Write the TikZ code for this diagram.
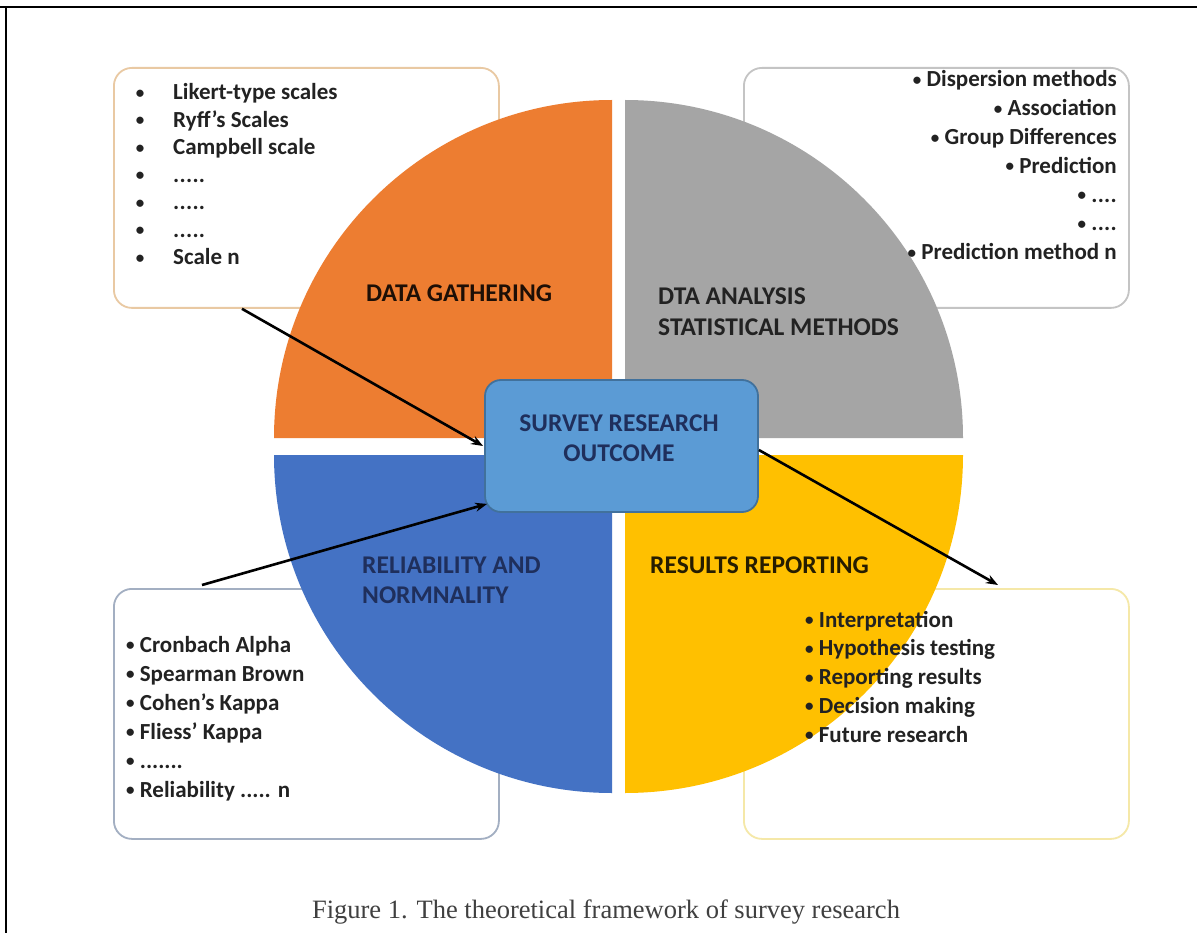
\documentclass[tikz,border=0pt]{standalone}
\usepackage{fontspec}
\setmainfont{Carlito}
\newfontfamily\capfont{Liberation Serif}
\usetikzlibrary{arrows.meta}
\definecolor{qorange}{HTML}{ED7D31}
\definecolor{qgray}{HTML}{A5A5A5}
\definecolor{qblue}{HTML}{4472C4}
\definecolor{qyellow}{HTML}{FFC000}
\definecolor{cfill}{HTML}{5B9BD5}
\definecolor{cline}{HTML}{41719C}
\definecolor{navy}{HTML}{1F2F5C}
\definecolor{txt}{HTML}{222222}
\definecolor{bdtl}{HTML}{E9C9A3}
\definecolor{bdtr}{HTML}{C4C4C4}
\definecolor{bdbl}{HTML}{A3AFC2}
\definecolor{bdbr}{HTML}{F5E8A8}
\newcommand\dotsfive{.\kern0.3pt.\kern0.3pt.\kern0.3pt.\kern0.3pt.}
\newcommand\dotsfour{.\kern0.3pt.\kern0.3pt.\kern0.3pt.}
\newcommand\dotsseven{.......}
\newcommand\relyn{Reliability ..... n}
\newcommand\bul{\raisebox{1.5pt}{\fontsize{17}{17}\selectfont •}}
\begin{document}
\begin{tikzpicture}[x=1pt,y=-1pt,
  listbox/.style={draw, line width=1.8pt, fill=white, rounded corners=18pt,
    minimum width=385pt, minimum height=250pt, anchor=north west, inner sep=0pt},
  item/.style={font=\bfseries\fontsize{23}{27}\selectfont, text=txt, inner sep=0pt},
  qlabel/.style={font=\bfseries\fontsize{25.5}{30}\selectfont, inner sep=0pt, anchor=base west},
  link/.style={line width=2.6pt, -{Stealth[length=12pt,width=9pt]}},
  frameline/.style={black}
]
\useasboundingbox (0,0) rectangle (1197,933);
\fill[white] (0,0) rectangle (1197,933);
% page frame
\draw[frameline, line width=1.4pt] (6,7) -- (1197,7);
\draw[frameline, line width=2.6pt] (0,7) -- (55,7);
\draw[frameline, line width=2.6pt] (1150,7) -- (1197,7);
\draw[frameline, line width=2pt] (6,7) -- (6,933);
% list boxes
\node[listbox, draw=bdtl, minimum height=240pt] (tl) at (113,67) {};
\node[listbox, draw=bdtr, minimum height=240pt] (tr) at (743,67) {};
\node[listbox, draw=bdbl] (bl) at (113,588) {};
\node[listbox, draw=bdbr] (br) at (743,588) {};
% quadrants
\fill[qorange] (612,438) -- (274,438) arc[start angle=180, end angle=270, radius=338] -- cycle;
\fill[qgray] (625,438) -- (625,100) arc[start angle=270, end angle=360, radius=338] -- cycle;
\fill[qblue] (612,455) -- (274,455) arc[start angle=180, end angle=90, radius=338] -- cycle;
\fill[qyellow] (625,455) -- (963,455) arc[start angle=0, end angle=90, radius=338] -- cycle;
% quadrant labels
\node[qlabel, text=black!88!qorange] (lg) at (366,302) {DATA GATHERING};
\node[qlabel, text=txt] (la1) at (658,305) {DTA ANALYSIS};
\node[qlabel, text=txt] (la2) at (658,335) {STATISTICAL METHODS};
\node[qlabel, text=navy] (lr1) at (362,573) {RELIABILITY AND};
\node[qlabel, text=navy] (lr2) at (362,603) {NORMNALITY};
\node[qlabel, text=black!85!qyellow] (lrr) at (650,573) {RESULTS REPORTING};
% centre box
\node[draw=cline, fill=cfill, line width=1.8pt, rounded corners=16pt,
  minimum width=273pt, minimum height=132pt, inner sep=0pt] (sro) at (621.5,446) {};
\node[font=\bfseries\fontsize{25.5}{30}\selectfont, text=navy, align=center, inner sep=0pt]
  (srot) at (619,438) {SURVEY RESEARCH\\OUTCOME};
% connectors
\draw[link] ([xshift=129pt]tl.south west) -- ([xshift=-1pt]sro.west);
\draw[link] ([xshift=89pt,yshift=3pt]bl.north west) -- ([xshift=3pt,yshift=9pt]sro.south west);
\draw[link] ([yshift=-4pt]sro.east) -- ([xshift=255pt,yshift=3pt]br.north west);
% top-left list
\foreach \t [count=\i from 0] in {Likert-type scales,Ryff’s Scales,Campbell scale,\dotsfive,\dotsfive,\dotsfive,Scale n}{
  \node[item, anchor=base] at (140,100+27.5*\i) {\bul};
  \node[item, anchor=base west] at (173,100+27.5*\i) {\t};
}
% top-right list
\foreach \t [count=\i from 0] in {Dispersion methods,Association,Group Differences,Prediction,\dotsfour,\dotsfour,Prediction method n}{
  \node[item, anchor=base east] at (1117,87+28.8*\i) {\bul\ \t};
}
% bottom-left list
\foreach \t [count=\i from 0] in {Cronbach Alpha,Spearman Brown,Cohen’s Kappa,Fliess’ Kappa,\dotsseven,\relyn}{
  \node[item, anchor=base west] at (126,652+29*\i) {\bul\ \t};
}
% bottom-right list
\foreach \t [count=\i from 0] in {Interpretation,Hypothesis testing,Reporting results,Decision making,Future research}{
  \node[item, anchor=base west] at (805,627+28.8*\i) {\bul\ \t};
}
% caption
\node[font=\capfont\fontsize{26.5}{30}\selectfont, text=black!75, inner sep=0pt, anchor=base] (cap) at (606,918) {Figure 1. The theoretical framework of survey research};
\end{tikzpicture}
\end{document}
